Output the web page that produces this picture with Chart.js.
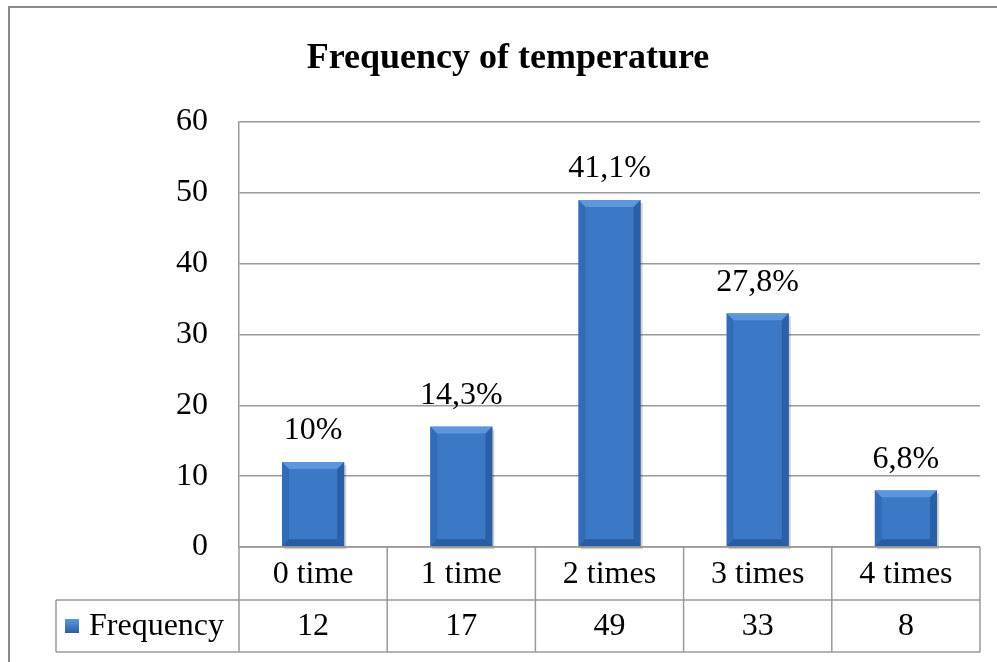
<!DOCTYPE html>
<html lang="en">
<head>
  <meta charset="UTF-8">
  <title>Frequency of temperature</title>
  <script src="https://cdn.jsdelivr.net/npm/chart.js"></script>
  <style>
    body { margin: 0; background: #fff; }
    #wrap { position: relative; width: 997px; height: 662px; }
    #frame { position: absolute; left: 8px; top: 6px; right: -10px; bottom: -10px;
             border-top: 2px solid #8a8a8a; border-left: 2px solid #8a8a8a; pointer-events: none; }
  </style>
</head>
<body>
  <div id="wrap">
    <canvas id="chart" width="997" height="662"></canvas>
    <div id="frame"></div>
  </div>

  <script>
    const categories = ['0 time', '1 time', '2 times', '3 times', '4 times'];
    const frequency = [12, 17, 49, 33, 8];
    const percentLabels = ['10%', '14,3%', '41,1%', '27,8%', '6,8%'];
    const yTicks = [0, 10, 20, 30, 40, 50, 60];
    const chartTitle = 'Frequency of temperature';

    const serif = '"Liberation Serif", "Times New Roman", serif';
    const gridColor = '#9a9a9a';
    const bodySize = 32;

    // bevel look like the office chart bars
    const bevelPlugin = {
      id: 'bevel',
      beforeDatasetsDraw(chart) {
        // soft shadow under each bar
        const ctx = chart.ctx;
        chart.getDatasetMeta(0).data.forEach(bar => {
          const l = bar.x - bar.width / 2;
          ctx.save();
          ctx.fillStyle = 'rgba(0,0,0,0.18)';
          ctx.fillRect(l + 2, bar.y + 3, bar.width, bar.base - bar.y);
          ctx.restore();
        });
      },
      afterDatasetsDraw(chart) {
        const ctx = chart.ctx;
        const meta = chart.getDatasetMeta(0);
        meta.data.forEach(bar => {
          const l = bar.x - bar.width / 2, r = bar.x + bar.width / 2;
          const t = bar.y, b = bar.base;
          const e = 7;
          ctx.save();
          ctx.fillStyle = 'rgba(125,180,240,0.5)';
          ctx.beginPath();
          ctx.moveTo(l, t); ctx.lineTo(r, t); ctx.lineTo(r - e, t + e); ctx.lineTo(l + e, t + e);
          ctx.closePath(); ctx.fill();
          ctx.fillStyle = 'rgba(30,80,150,0.3)';
          ctx.beginPath();
          ctx.moveTo(l, t); ctx.lineTo(l + e, t + e); ctx.lineTo(l + e, b - e); ctx.lineTo(l, b);
          ctx.closePath(); ctx.fill();
          ctx.fillStyle = 'rgba(20,60,120,0.4)';
          ctx.beginPath();
          ctx.moveTo(r, t); ctx.lineTo(r - e, t + e); ctx.lineTo(r - e, b - e); ctx.lineTo(r, b);
          ctx.closePath(); ctx.fill();
          ctx.fillStyle = 'rgba(20,60,120,0.45)';
          ctx.beginPath();
          ctx.moveTo(l, b); ctx.lineTo(l + e, b - e); ctx.lineTo(r - e, b - e); ctx.lineTo(r, b);
          ctx.closePath(); ctx.fill();
          ctx.restore();
        });
      }
    };

    // title, percentage labels above bars + data table under the plot
    const tablePlugin = {
      id: 'dataTable',
      afterDraw(chart) {
        const ctx = chart.ctx;
        const xs = chart.scales.x;
        const area = chart.chartArea;
        const meta = chart.getDatasetMeta(0);
        const step = xs.getPixelForValue(1) - xs.getPixelForValue(0);
        const row1 = area.bottom, row2 = area.bottom + 53, row3 = area.bottom + 105;
        const legendLeft = 56;

        ctx.save();
        ctx.fillStyle = '#000';
        ctx.textAlign = 'center';
        ctx.textBaseline = 'middle';
        ctx.font = 'bold 36px ' + serif;
        ctx.fillText(chartTitle, 508, 59);

        ctx.font = bodySize + 'px ' + serif;
        meta.data.forEach((bar, i) => {
          ctx.fillText(percentLabels[i], bar.x, bar.y - 31);
        });

        ctx.strokeStyle = gridColor;
        ctx.lineWidth = 1.5;
        ctx.beginPath();
        ctx.moveTo(area.left, row1); ctx.lineTo(area.right, row1);
        ctx.moveTo(legendLeft, row2); ctx.lineTo(area.right, row2);
        ctx.moveTo(legendLeft, row3); ctx.lineTo(area.right, row3);
        ctx.moveTo(legendLeft, row2); ctx.lineTo(legendLeft, row3);
        for (let i = 0; i <= categories.length; i++) {
          const x = xs.getPixelForValue(0) - step / 2 + i * step;
          ctx.moveTo(x, row1); ctx.lineTo(x, row3);
        }
        ctx.stroke();

        categories.forEach((c, i) => {
          const x = xs.getPixelForValue(i);
          ctx.fillText(c, x, (row1 + row2) / 2 + 1);
          ctx.fillText(String(frequency[i]), x, (row2 + row3) / 2 + 1);
        });

        // legend key
        const ky = (row2 + row3) / 2;
        const g = ctx.createLinearGradient(0, ky - 7, 0, ky + 7);
        g.addColorStop(0, '#5b98e0');
        g.addColorStop(1, '#2c5e9e');
        ctx.fillStyle = g;
        ctx.fillRect(legendLeft + 9, ky - 7, 14, 14);
        ctx.fillStyle = '#000';
        ctx.textAlign = 'left';
        ctx.fillText(chart.data.datasets[0].label, legendLeft + 33, ky + 1);
        ctx.restore();
      }
    };

    new Chart(document.getElementById('chart'), {
      type: 'bar',
      data: {
        labels: categories,
        datasets: [{
          label: 'Frequency',
          data: frequency,
          backgroundColor: '#3b78c6',
          borderWidth: 0,
          categoryPercentage: 1,
          barPercentage: 0.42
        }]
      },
      options: {
        responsive: false,
        animation: false,
        devicePixelRatio: 1,
        layout: { padding: { top: 122, right: 17, bottom: 115, left: 0 } },
        scales: {
          x: { display: false },
          y: {
            min: 0,
            max: 60,
            afterFit(scale) { scale.width = 239; },
            afterBuildTicks(scale) { scale.ticks = yTicks.map(v => ({ value: v })); },
            grid: { color: gridColor, lineWidth: 1.5, drawTicks: false },
            border: { display: true, color: gridColor, width: 1.5 },
            ticks: {
              color: '#000',
              padding: 31,
              font: { family: serif, size: bodySize }
            }
          }
        },
        plugins: {
          legend: { display: false },
          tooltip: { enabled: false },
          title: { display: false }
        }
      },
      plugins: [bevelPlugin, tablePlugin]
    });
  </script>
</body>
</html>
